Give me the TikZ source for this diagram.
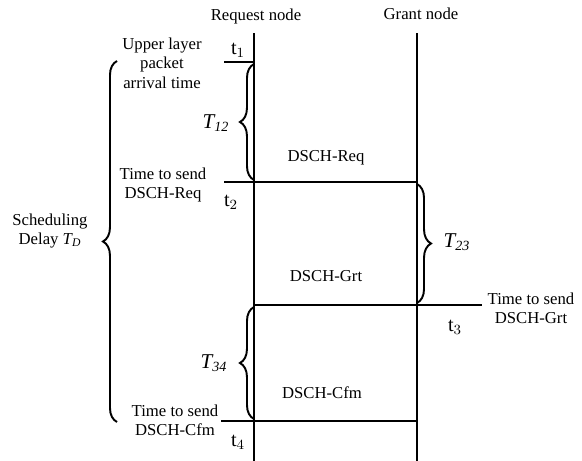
\documentclass[tikz,border=0pt]{standalone}
\usepackage{fontspec}
\setmainfont{Liberation Serif}
\usetikzlibrary{decorations.pathreplacing}

\begin{document}
\begin{tikzpicture}[
    x=0.2mm, y=-0.2mm,
    life/.style={line width=1.1pt},
    msg/.style={line width=1.1pt},
    txt/.style={font=\fontsize{9.5}{11}\selectfont, align=center, inner sep=0pt},
    tlab/.style={font=\fontsize{11.5}{13}\selectfont, inner sep=0pt},
    Tlab/.style={font=\fontsize{12}{14}\selectfont\itshape, inner sep=0pt},
    brc/.style={decorate, decoration={brace, amplitude=8pt}, line width=1.1pt},
]
\useasboundingbox (0,0) rectangle (582,461);

% --- Lifelines ---
\node[txt] (reqhead) at (256,16) {Request node};
\node[txt] (grthead) at (421,14) {Grant node};
\coordinate (reqtop) at (254,33);
\coordinate (reqbot) at (254,461);
\coordinate (grttop) at (417,33);
\coordinate (grtbot) at (417,461);
\draw[life] (reqtop) -- (reqbot);
\draw[life] (grttop) -- (grtbot);

% --- Time marks ---
\coordinate (t1l) at (224,62);
\coordinate (t1r) at (254,62);
\coordinate (t2l) at (224,182);
\coordinate (t2r) at (417,182);
\coordinate (t3l) at (254,305);
\coordinate (t3r) at (482,305);
\coordinate (t4l) at (221,421);
\coordinate (t4r) at (417,421);
\draw[msg] (t1l) -- (t1r);
\draw[msg] (t2l) -- (t2r);
\draw[msg] (t3l) -- (t3r);
\draw[msg] (t4l) -- (t4r);

\node[tlab] (t1) at (238,50) {$\mathrm{t}_1$};
\node[tlab] (t2) at (231,202) {$\mathrm{t}_2$};
\node[tlab] (t3) at (455,327) {$\mathrm{t}_3$};
\node[tlab] (t4) at (238,442) {$\mathrm{t}_4$};

% --- Messages ---
\node[txt] (req) at (326,158) {DSCH-Req};
\node[txt] (grt) at (326,276) {DSCH-Grt};
\node[txt] (cfm) at (322,393) {DSCH-Cfm};

% --- Event texts ---
\node[txt] (arrive) at (162,63) {Upper layer\\packet\\arrival time};
\node[txt] (sendreq) at (163,185) {Time to send\\DSCH-Req};
\node[txt] (sendgrt) at (531,308) {Time to send\\DSCH-Grt};
\node[txt] (sendcfm) at (175,420) {Time to send\\DSCH-Cfm};

% --- Braces ---
\draw[brc] (254,180) -- (254,64);
\draw[brc] (417,184) -- (417,303);
\draw[brc] (254,419) -- (254,307);
\draw[brc] (117,422) -- (117,61);

\node[Tlab] (T12) at (216,123) {T\textsubscript{12}};
\node[Tlab] (T23) at (457,242) {T\textsubscript{23}};
\node[Tlab] (T34) at (214,363) {T\textsubscript{34}};
\node[txt] (TD) at (50,231) {Scheduling\\Delay \textit{T\textsubscript{D}}};
\end{tikzpicture}
\end{document}
